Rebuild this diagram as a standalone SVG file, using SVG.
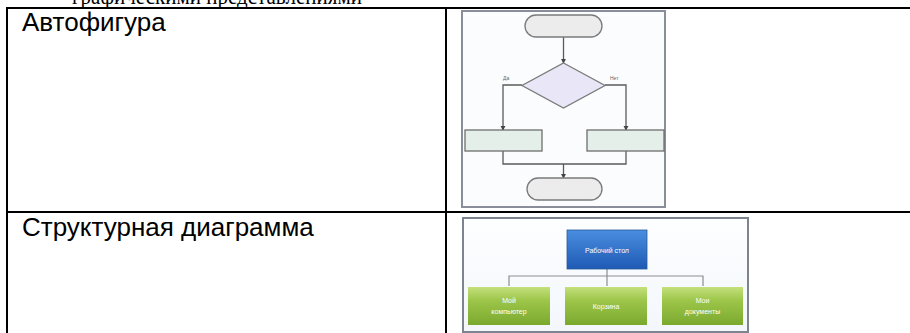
<svg xmlns="http://www.w3.org/2000/svg" width="910" height="333" viewBox="0 0 910 333">
<style>
.tbl{stroke:#000;stroke-width:2;fill:none}
.lbl{font-family:"Liberation Sans",Arial,sans-serif;font-size:26px;fill:#000}
.top{font-family:"Liberation Serif","Times New Roman",serif;font-size:24px;fill:#000}
.frame{fill:#fbfcfe;stroke:#8a8e9a;stroke-width:2}
.term{fill:#ececec;stroke:#7a7a7a;stroke-width:1.3}
.dec{fill:#e8e6f7;stroke:#7a7a7a;stroke-width:1.3}
.proc{fill:#e5efea;stroke:#6e6e6e;stroke-width:1.3}
.fl{fill:none;stroke:#5a5a5a;stroke-width:1.3}
.tiny{font-family:"Liberation Sans",Arial,sans-serif;font-size:5px;fill:#666}
.sc{fill:none;stroke:#8d8d8d;stroke-width:1.2}
.wt{font-family:"Liberation Sans",Arial,sans-serif;font-size:7px;fill:#fff;text-anchor:middle}
</style>
<defs>
<marker id="ah" viewBox="0 0 6 6" refX="5" refY="3" markerWidth="4" markerHeight="4" orient="auto">
<path d="M0,0 L6,3 L0,6 z" fill="#444"/>
</marker>
<linearGradient id="blue" x1="0" y1="0" x2="0" y2="1">
<stop offset="0" stop-color="#4a8ee0"/>
<stop offset="1" stop-color="#1f5ab5"/>
</linearGradient>
<linearGradient id="green" x1="0" y1="0" x2="0" y2="1">
<stop offset="0" stop-color="#c4e07c"/>
<stop offset="0.35" stop-color="#9dc64a"/>
<stop offset="1" stop-color="#7aa92e"/>
</linearGradient>
<linearGradient id="bg" x1="0" y1="0" x2="0" y2="1">
<stop offset="0" stop-color="#fdfeff"/>
<stop offset="1" stop-color="#f3f7fc"/>
</linearGradient>
</defs>
<rect width="910" height="333" fill="#fff"/>
<text class="top" x="72" y="4" textLength="290" lengthAdjust="spacingAndGlyphs">графическими представлениями</text>
<g id="table">
<line class="tbl" x1="7" y1="8" x2="910" y2="8"/>
<line class="tbl" x1="7" y1="212" x2="910" y2="212"/>
<line class="tbl" x1="7" y1="7" x2="7" y2="333"/>
<line class="tbl" x1="446" y1="7" x2="446" y2="333"/>
<text class="lbl" x="22" y="31">Автофигура</text>
<text class="lbl" x="22" y="236">Структурная диаграмма</text>
</g>
<g id="flowchart">
<rect class="frame" x="462" y="11" width="203" height="196"/>
<g id="fc-connectors">
<line class="fl" x1="563.5" y1="37" x2="563.5" y2="63" marker-end="url(#ah)"/>
<polyline class="fl" points="522,85 503,85 503,130" marker-end="url(#ah)"/>
<polyline class="fl" points="605,85 626,85 626,130" marker-end="url(#ah)"/>
<polyline class="fl" points="503,151 503,164 626,164 626,151"/>
<line class="fl" x1="563.5" y1="164" x2="563.5" y2="178" marker-end="url(#ah)"/>
</g>
<g id="fc-start"><rect class="term" x="525" y="15" width="77" height="22" rx="11"/></g>
<g id="fc-decision"><polygon class="dec" points="563.5,63 605,85.5 563.5,108 522,85.5"/></g>
<text class="tiny" x="503" y="80">Да</text>
<text class="tiny" x="610" y="80">Нет</text>
<g id="fc-left"><rect class="proc" x="465" y="130" width="77" height="21"/></g>
<g id="fc-right"><rect class="proc" x="587" y="130" width="77" height="21"/></g>
<g id="fc-end"><rect class="term" x="527" y="178" width="75" height="22" rx="11"/></g>
</g>
<g id="structure">
<rect x="463" y="218" width="285" height="114" fill="url(#bg)" stroke="#7d8490" stroke-width="2"/>
<g id="sc-connectors">
<polyline class="sc" points="607,269 607,276"/>
<polyline class="sc" points="509,286 509,276 703,276 703,286"/>
<line class="sc" x1="607" y1="276" x2="607" y2="286"/>
</g>
<g id="sc-root">
<rect x="567" y="230" width="80" height="39" fill="url(#blue)" stroke="#2a5a9a" stroke-width="0.8"/>
<text class="wt" x="607" y="252.5">Рабочий стол</text>
</g>
<g id="sc-computer">
<rect x="468" y="287" width="82" height="38" fill="url(#green)"/>
<text class="wt" x="509" y="303">Мой</text>
<text class="wt" x="509" y="314">компьютер</text>
</g>
<g id="sc-trash">
<rect x="565" y="287" width="82" height="38" fill="url(#green)"/>
<text class="wt" x="606" y="309">Корзина</text>
</g>
<g id="sc-docs">
<rect x="662" y="287" width="81" height="38" fill="url(#green)"/>
<text class="wt" x="702.5" y="303">Мои</text>
<text class="wt" x="702.5" y="314">документы</text>
</g>
</g>
</svg>
